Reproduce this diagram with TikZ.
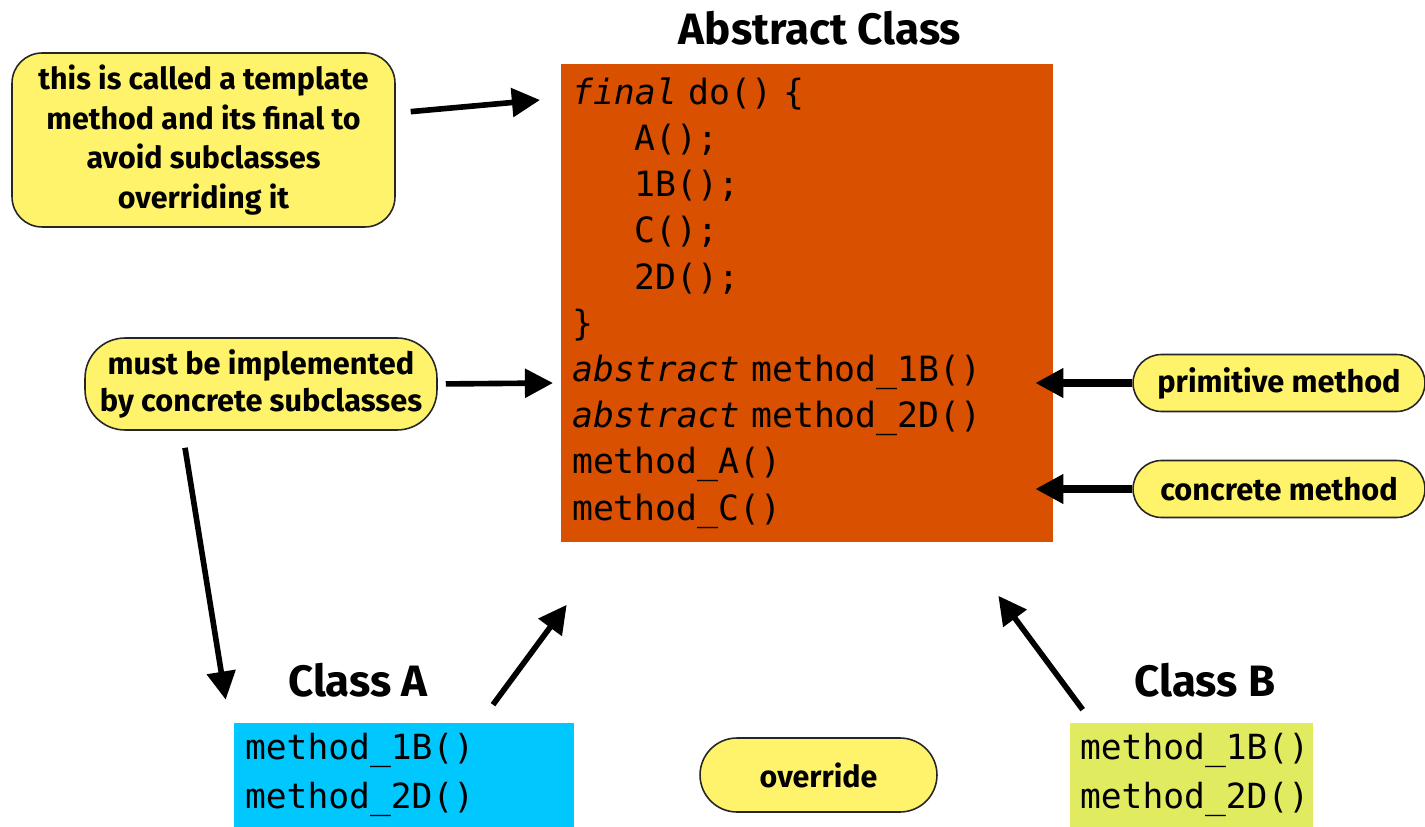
\documentclass[tikz,border=0pt]{standalone}
\usepackage{fontspec}
\setmainfont{Fira Sans}
\setmonofont{DejaVu Sans Mono}
\usetikzlibrary{arrows.meta,positioning,calc}

\definecolor{absorange}{RGB}{217,80,0}
\definecolor{clsacyan}{RGB}{0,200,255}
\definecolor{clsbgreen}{RGB}{225,235,95}
\definecolor{noteyellow}{RGB}{255,243,107}

\tikzset{
  note/.style={draw=black!85, fill=noteyellow, line width=0.9pt, align=center,
    inner sep=0pt, font=\bfseries\fontsize{17.5}{21.5}\selectfont},
  codebox/.style={inner xsep=0.22cm, inner ysep=0pt, align=left,
    font=\ttfamily\fontsize{19.8}{26.3}\selectfont},
  title/.style={font=\bfseries\fontsize{25}{30}\selectfont},
  arr/.style={-{Triangle[length=16pt,width=16pt]}, line width=3.2pt},
  fatarr/.style={arr, line width=4.2pt}
}

\begin{document}
\begin{tikzpicture}[x=0.02cm,y=-0.02cm]
    \useasboundingbox (0,0) rectangle (1425,827);

    % the abstract class with its template method
    \node[title] (abstitle) at (820,28) {Abstract Class};
    \node[codebox, fill=absorange, minimum width=9.84cm, minimum height=9.58cm,
          text width=9.40cm] (absbox) at (807,303)
      {\textit{final} do() \{\\
       \phantom{xxx}A();\\
       \phantom{xxx}1B();\\
       \phantom{xxx}C();\\
       \phantom{xxx}2D();\\
       \}\\
       \textit{abstract} method\_1B()\\
       \textit{abstract} method\_2D()\\
       method\_A()\\
       method\_C()};

    % notes
    \node[note, rounded corners=0.6cm, minimum width=7.66cm, minimum height=3.48cm,
          font=\bfseries\fontsize{17.3}{22.5}\selectfont] (tmpl) at (203.5,140)
      {this is called a template\\ method and its final to\\ avoid subclasses\\ overriding it};
    \node[note, rounded corners=0.8cm, minimum width=7.04cm, minimum height=1.84cm] (impl) at (261,384)
      {must be implemented\\ by concrete subclasses};
    \node[note, rounded corners=0.57cm, minimum width=5.84cm, minimum height=1.14cm] (prim) at (1279,383)
      {primitive method};
    \node[note, rounded corners=0.57cm, minimum width=5.84cm, minimum height=1.14cm] (conc) at (1279,489)
      {concrete method};
    \node[note, rounded corners=0.74cm, minimum width=4.74cm, minimum height=1.48cm,
          font=\bfseries\fontsize{17.3}{20}\selectfont] (ovr) at (818.5,775) {override};

    % concrete subclasses
    \node[title] (clsAtitle) at (358,680) {Class A};
    \node[codebox, fill=clsacyan, minimum width=6.72cm, minimum height=2.08cm,
          text width=6.36cm, font=\ttfamily\fontsize{19.7}{28}\selectfont] (clsA) at (404,775)
      {method\_1B()\\ method\_2D()};
    \node[title] (clsBtitle) at (1205,680) {Class B};
    \node[codebox, fill=clsbgreen, minimum width=4.86cm, minimum height=2.08cm,
          text width=4.46cm, inner xsep=0.2cm, font=\ttfamily\fontsize{19.7}{28}\selectfont] (clsB) at (1191.5,775)
      {method\_1B()\\ method\_2D()};

    % arrows
    \coordinate (tmpltip) at (540,100);
    \coordinate (impltip) at (553,383);
    \draw[arr, shorten <=0.3cm] (tmpl.8) -- (tmpltip);
    \draw[arr, shorten <=0.16cm] (impl.east) -- (impltip);
    \draw[fatarr] (prim.west) -- ([xshift=-0.36cm]absbox.east |- prim.west);
    \draw[fatarr] (conc.west) -- ([xshift=-0.36cm]absbox.east |- conc.west);
    \draw[arr] ([xshift=-1.52cm,yshift=-0.34cm]impl.south)
      -- ([xshift=-0.16cm,yshift=0.46cm]clsA.north west);
    \draw[arr] ([xshift=1.78cm,yshift=0.36cm]clsA.north)
      -- ([xshift=0.12cm,yshift=-1.24cm]absbox.south west);
    \draw[arr] ([xshift=0.26cm,yshift=0.26cm]clsB.north west)
      -- ([xshift=-1.1cm,yshift=-1.06cm]absbox.south east);
\end{tikzpicture}
\end{document}
